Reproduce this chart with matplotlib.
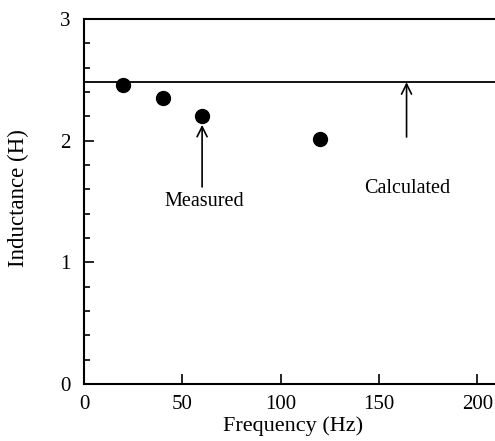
import matplotlib.pyplot as plt
from matplotlib import ticker

# measured inductance vs frequency
freq = [20, 40, 60, 120]
inductance = [2.46, 2.35, 2.20, 2.01]
calculated = 2.48

plt.rcParams['font.family'] = ['Liberation Serif', 'DejaVu Serif']

fig = plt.figure(figsize=(4.95, 4.41), dpi=100)
ax = fig.add_axes([0.170, 0.129, 0.834, 0.828])

ax.axhline(calculated, color='black', lw=1.3)
ax.plot(freq, inductance, 'o', color='black', markersize=10)

ax.set_xlim(0, 210)
ax.set_ylim(0, 3)
ax.xaxis.set_major_locator(ticker.MultipleLocator(50))
ax.yaxis.set_major_locator(ticker.MultipleLocator(1))
ax.yaxis.set_minor_locator(ticker.MultipleLocator(0.2))
ax.tick_params(which='both', direction='in', labelsize=15, width=1.2)
ax.tick_params(which='major', length=7)
ax.tick_params(which='minor', length=4)
ax.tick_params(axis='x', pad=8)
ax.tick_params(axis='y', pad=10)
for s in ax.spines.values():
    s.set_linewidth(1.5)

ax.set_xlabel('Frequency (Hz)', fontsize=16)
ax.set_ylabel('Inductance (H)', fontsize=16.5)
ax.xaxis.set_label_coords(0.507, -0.088)
ax.yaxis.set_label_coords(-0.133, 0.51)

arrow = dict(arrowstyle='->', color='black', lw=1.2, mutation_scale=18,
             shrinkA=0, shrinkB=0)
ax.annotate('', xy=(60, 2.13), xytext=(60, 1.62), arrowprops=arrow)
ax.text(61, 1.50, 'Measured', ha='center', va='center', fontsize=14.5)
ax.annotate('', xy=(164, 2.48), xytext=(164, 2.03), arrowprops=arrow)
ax.text(164.5, 1.61, 'Calculated', ha='center', va='center', fontsize=14.5)

fig.savefig('out.png', dpi=100)
